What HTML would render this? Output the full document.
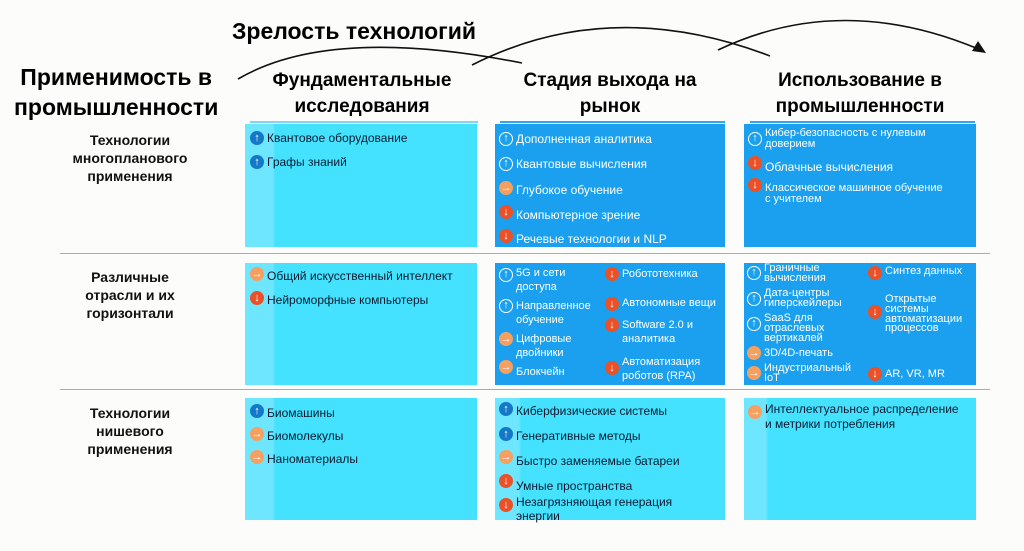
<!DOCTYPE html>
<html><head><meta charset="utf-8">
<style>
body{margin:0;width:1024px;height:551px;background:#fcfcfa;position:relative;overflow:hidden;font-family:"Liberation Sans","DejaVu Sans",sans-serif;}
.h{position:absolute;font-family:"Liberation Sans Narrow","Liberation Sans",sans-serif;font-weight:bold;color:#000;text-align:center;white-space:nowrap;}
.rl{position:absolute;font-weight:bold;font-size:14px;line-height:18px;text-align:center;width:180px;left:40px;color:#111;}
.bx{position:absolute;}
.lt{background:linear-gradient(90deg,#6fe6ff 0,#6fe6ff 28px,#45e2ff 30px);}
.dk{background:#1aa0ef;}
.hl{position:absolute;height:1px;background:#aaa;left:60px;width:930px;}
.ul{position:absolute;height:2px;top:121px;background:#7fd4f8;}
.it{position:absolute;font-size:12px;line-height:13px;padding-left:17px;white-space:nowrap;color:#0a1a30;margin-top:3px;}
.dk .it,.w{color:#fff;}
.s{font-size:11px;line-height:9.8px;}
.ic{position:absolute;left:0;width:14px;height:14px;border-radius:50%;font-style:normal;color:#fff;font-size:11px;line-height:14px;text-align:center;font-weight:bold;box-sizing:border-box;}
.u{background:#1478c8;}
.uw{border:1.4px solid #fff;line-height:11px;}
.r{background:#f5a060;}
.d{background:#ea5128;}
</style></head><body>
<svg width="1024" height="130" style="position:absolute;left:0;top:0">
<path d="M238,79 Q330,25 522,63" fill="none" stroke="#111" stroke-width="1.6"/>
<path d="M472,65 Q610,-5 770,56" fill="none" stroke="#111" stroke-width="1.6"/>
<path d="M718,50 Q840,-8 976,48" fill="none" stroke="#111" stroke-width="1.6"/>
<polygon points="986,53 972,51 978,41" fill="#111"/>
</svg>
<div class="h" style="left:232px;top:18px;font-size:23px;">Зрелость технологий</div>
<div class="h" style="left:14px;top:62px;font-size:23px;line-height:30px;">Применимость в<br>промышленности</div>
<div class="h" style="left:252px;top:68px;width:220px;font-size:19px;line-height:26px;">Фундаментальные<br>исследования</div>
<div class="h" style="left:500px;top:68px;width:220px;font-size:19px;line-height:26px;">Стадия выхода на<br>рынок</div>
<div class="h" style="left:750px;top:68px;width:220px;font-size:19px;line-height:26px;">Использование в<br>промышленности</div>
<div class="ul" style="left:250px;width:228px"></div>
<div class="ul" style="left:500px;width:225px;background:#2ea8ee"></div>
<div class="ul" style="left:750px;width:225px;background:#2ea8ee"></div>

<div class="rl" style="top:131px">Технологии<br>многопланового<br>применения</div>
<div class="rl" style="top:268px">Различные<br>отрасли и их<br>горизонтали</div>
<div class="rl" style="top:404px">Технологии<br>нишевого<br>применения</div>
<div class="hl" style="top:253px"></div>
<div class="hl" style="top:389px"></div>

<!-- row1 -->
<div class="bx lt" style="left:245px;top:124px;width:232px;height:123px">
<div class="it" style="left:5px;top:5px"><i class="ic u" style="top:-1px">↑</i>Квантовое оборудование</div>
<div class="it" style="left:5px;top:29px"><i class="ic u" style="top:-1px">↑</i>Графы знаний</div>
</div>
<div class="bx dk" style="left:495px;top:124px;width:230px;height:123px">
<div class="it" style="left:4px;top:6px"><i class="ic uw" style="top:-1px">↑</i>Дополненная аналитика</div>
<div class="it" style="left:4px;top:31px"><i class="ic uw" style="top:-1px">↑</i>Квантовые вычисления</div>
<div class="it" style="left:4px;top:57px"><i class="ic r" style="top:-3px">→</i>Глубокое обучение</div>
<div class="it" style="left:4px;top:82px"><i class="ic d" style="top:-4px">↓</i>Компьютерное зрение</div>
<div class="it" style="left:4px;top:106px"><i class="ic d" style="top:-4px">↓</i>Речевые технологии и NLP</div>
</div>
<div class="bx dk" style="left:744px;top:124px;width:232px;height:123px">
<div class="it s" style="left:4px;top:1px;line-height:11px"><i class="ic uw" style="top:4px">↑</i>Кибер-безопасность с нулевым<br>доверием</div>
<div class="it" style="left:4px;top:34px"><i class="ic d" style="top:-5px">↓</i>Облачные вычисления</div>
<div class="it s" style="left:4px;top:56px;line-height:11px"><i class="ic d" style="top:-5px">↓</i>Классическое машинное обучение<br>с учителем</div>
</div>

<!-- row2 -->
<div class="bx lt" style="left:245px;top:263px;width:232px;height:122px">
<div class="it" style="left:5px;top:4px"><i class="ic r" style="top:-3px">→</i>Общий искусственный интеллект</div>
<div class="it" style="left:5px;top:28px"><i class="ic d" style="top:-3px">↓</i>Нейроморфные компьютеры</div>
</div>
<div class="bx dk" style="left:495px;top:263px;width:230px;height:122px">
<div class="it s" style="left:4px;top:0;line-height:14px"><i class="ic uw" style="top:2px">↑</i>5G и сети<br>доступа</div>
<div class="it s" style="left:4px;top:33px;line-height:14px"><i class="ic uw" style="top:0">↑</i>Направленное<br>обучение</div>
<div class="it s" style="left:4px;top:66px;line-height:14px"><i class="ic r" style="top:0">→</i>Цифровые<br>двойники</div>
<div class="it s" style="left:4px;top:99px;line-height:14px"><i class="ic r" style="top:-5px">→</i>Блокчейн</div>
<div class="it s" style="left:110px;top:1px;line-height:14px"><i class="ic d" style="top:0">↓</i>Робототехника</div>
<div class="it s" style="left:110px;top:30px;line-height:14px"><i class="ic d" style="top:1px">↓</i>Автономные вещи</div>
<div class="it s" style="left:110px;top:52px;line-height:14px"><i class="ic d" style="top:0">↓</i>Software 2.0 и<br>аналитика</div>
<div class="it s" style="left:110px;top:89px;line-height:14px"><i class="ic d" style="top:6px">↓</i>Автоматизация<br>роботов (RPA)</div>
</div>
<div class="bx dk" style="left:744px;top:263px;width:232px;height:122px">
<div class="it s" style="left:3px;top:-2px"><i class="ic uw" style="top:2px">↑</i>Граничные<br>вычисления</div>
<div class="it s" style="left:3px;top:23px"><i class="ic uw" style="top:3px">↑</i>Дата-центры<br>гиперскейлеры</div>
<div class="it s" style="left:3px;top:48px"><i class="ic uw" style="top:3px">↑</i>SaaS для<br>отраслевых<br>вертикалей</div>
<div class="it s" style="left:3px;top:83px"><i class="ic r" style="top:-3px">→</i>3D/4D-печать</div>
<div class="it s" style="left:3px;top:98px"><i class="ic r" style="top:2px">→</i>Индустриальный<br>IoT</div>
<div class="it s" style="left:124px;top:1px"><i class="ic d" style="top:-1px">↓</i>Синтез данных</div>
<div class="it s" style="left:124px;top:29px"><i class="ic d" style="top:10px">↓</i>Открытые<br>системы<br>автоматизации<br>процессов</div>
<div class="it s" style="left:124px;top:104px"><i class="ic d" style="top:-3px">↓</i>AR, VR, MR</div>
</div>

<!-- row3 -->
<div class="bx lt" style="left:245px;top:398px;width:232px;height:122px">
<div class="it" style="left:5px;top:6px"><i class="ic u" style="top:-3px">↑</i>Биомашины</div>
<div class="it" style="left:5px;top:29px"><i class="ic r" style="top:-3px">→</i>Биомолекулы</div>
<div class="it" style="left:5px;top:52px"><i class="ic r" style="top:-3px">→</i>Наноматериалы</div>
</div>
<div class="bx lt" style="left:495px;top:398px;width:230px;height:122px;background:linear-gradient(90deg,#6fe6ff 0,#6fe6ff 24px,#45e2ff 26px)">
<div class="it" style="left:4px;top:4px"><i class="ic u" style="top:-3px">↑</i>Киберфизические системы</div>
<div class="it" style="left:4px;top:29px"><i class="ic u" style="top:-3px">↑</i>Генеративные методы</div>
<div class="it" style="left:4px;top:54px"><i class="ic r" style="top:-5px">→</i>Быстро заменяемые батареи</div>
<div class="it" style="left:4px;top:79px"><i class="ic d" style="top:-6px">↓</i>Умные пространства</div>
<div class="it" style="left:4px;top:94px;line-height:14px"><i class="ic d" style="top:3px">↓</i>Незагрязняющая генерация<br>энергии</div>
</div>
<div class="bx lt" style="left:744px;top:398px;width:232px;height:122px;background:linear-gradient(90deg,#6fe6ff 0,#6fe6ff 22px,#45e2ff 24px)">
<div class="it" style="left:4px;top:1px;line-height:15px"><i class="ic r" style="top:3px">→</i>Интеллектуальное распределение<br>и метрики потребления</div>
</div>
</body></html>
